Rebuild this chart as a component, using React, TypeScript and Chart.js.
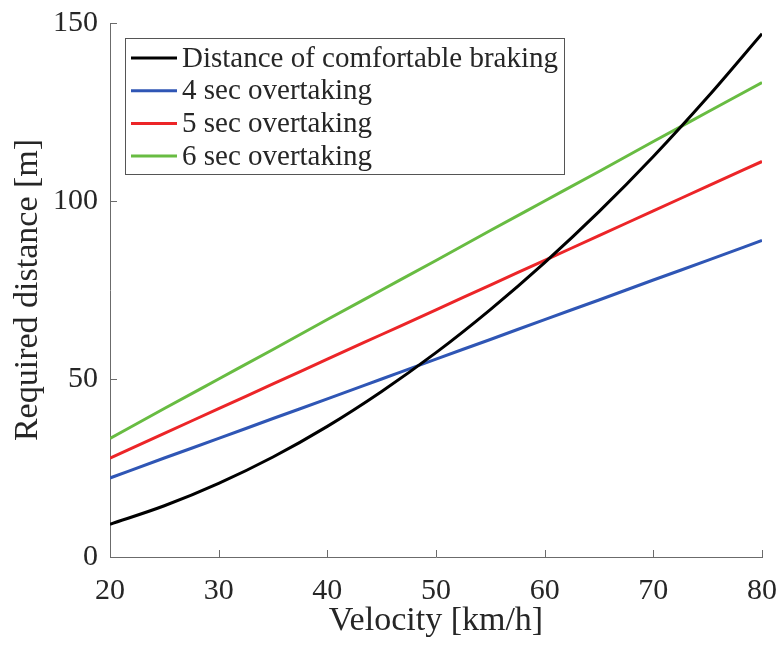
import React, { useEffect, useRef } from "react";
import { Chart, registerables } from "chart.js";

Chart.register(...registerables);

const velocities = [20, 25, 30, 35, 40, 45, 50, 55, 60, 65, 70, 75, 80];
const braking = [9.2, 14.4, 20.7, 28.1, 36.7, 46.5, 57.4, 69.5, 82.7, 97.0, 112.5, 129.2, 147.0];
const overtake4 = [22.2, 27.8, 33.3, 38.9, 44.4, 50.0, 55.6, 61.1, 66.7, 72.2, 77.8, 83.3, 88.9];
const overtake5 = [27.8, 34.7, 41.7, 48.6, 55.6, 62.5, 69.4, 76.4, 83.3, 90.3, 97.2, 104.2, 111.1];
const overtake6 = [33.3, 41.7, 50.0, 58.3, 66.7, 75.0, 83.3, 91.7, 100.0, 108.3, 116.7, 125.0, 133.3];
const seriesLabels = [
  "Distance of comfortable braking",
  "4 sec overtaking",
  "5 sec overtaking",
  "6 sec overtaking",
];
const seriesColors = ["#000000", "#2F56B5", "#EC2528", "#68BC42"];

const FONT = "'Liberation Serif', 'Times New Roman', serif";
const AXIS_COLOR = "#6b6b6b";
const TEXT_COLOR = "#262626";

const toPts = (ys: number[]) => velocities.map((v, i) => ({ x: v, y: ys[i] }));

const inwardTicks = {
  id: "inwardTicks",
  afterDraw(chart: any) {
    const { ctx, chartArea } = chart;
    const xs = chart.scales.x;
    const ys = chart.scales.y;
    ctx.save();
    ctx.strokeStyle = AXIS_COLOR;
    ctx.lineWidth = 1;
    const len = 7;
    ctx.beginPath();
    xs.ticks.forEach((t: any) => {
      const px = Math.round(xs.getPixelForValue(t.value)) + 0.5;
      ctx.moveTo(px, chartArea.bottom);
      ctx.lineTo(px, chartArea.bottom - len);
    });
    ys.ticks.forEach((t: any) => {
      const py = Math.round(ys.getPixelForValue(t.value)) + 0.5;
      ctx.moveTo(chartArea.left, py);
      ctx.lineTo(chartArea.left + len, py);
    });
    ctx.stroke();
    ctx.restore();
  },
};

const boxLegend = {
  id: "boxLegend",
  afterDraw(chart: any) {
    const { ctx } = chart;
    const ds = chart.data.datasets;
    ctx.save();
    ctx.font = `29px ${FONT}`;
    let maxW = 0;
    ds.forEach((d: any) => {
      maxW = Math.max(maxW, ctx.measureText(d.label).width);
    });
    const left = 125.5;
    const top = 38.5;
    const rowH = 32.7;
    const textX = 182;
    const right = Math.round(textX + maxW + 6) + 0.5;
    const height = 136;
    ctx.fillStyle = "#ffffff";
    ctx.fillRect(left, top, right - left, height);
    ctx.strokeStyle = "#555555";
    ctx.lineWidth = 1;
    ctx.strokeRect(left, top, right - left, height);
    ds.forEach((d: any, i: number) => {
      const cy = top + 19.5 + i * rowH;
      ctx.strokeStyle = d.borderColor;
      ctx.lineWidth = 3;
      ctx.beginPath();
      ctx.moveTo(131, cy);
      ctx.lineTo(177, cy);
      ctx.stroke();
      ctx.fillStyle = TEXT_COLOR;
      ctx.textBaseline = "middle";
      ctx.textAlign = "left";
      ctx.fillText(d.label, textX, cy + 1);
    });
    ctx.restore();
  },
};

export default function App() {
  const ref = useRef<HTMLCanvasElement>(null);
  useEffect(() => {
    document.body.style.margin = "0";
    const canvas = ref.current!;
    const datasets = [braking, overtake4, overtake5, overtake6].map((ys, i) => ({
      label: seriesLabels[i],
      data: toPts(ys),
      borderColor: seriesColors[i],
      backgroundColor: seriesColors[i],
      borderWidth: 3,
      pointRadius: 0,
      fill: false,
      cubicInterpolationMode: "monotone" as const,
    }));
    const chart = new Chart(canvas, {
      type: "line",
      data: { datasets },
      options: {
        responsive: false,
        animation: false,
        layout: { padding: { top: 23, right: 19, left: 0, bottom: 0 } },
        plugins: {
          legend: { display: false },
          tooltip: { enabled: false },
        },
        scales: {
          x: {
            type: "linear",
            min: 20,
            max: 80,
            afterFit: (s: any) => {
              s.height = 92;
              s.paddingLeft = 0;
              s.paddingRight = 0;
            },
            grid: { display: false, drawTicks: false },
            border: { display: true, color: AXIS_COLOR, width: 1 },
            ticks: {
              stepSize: 10,
              padding: 16,
              color: TEXT_COLOR,
              font: { family: FONT, size: 30 },
            },
            title: {
              display: true,
              text: "Velocity [km/h]",
              color: TEXT_COLOR,
              font: { family: FONT, size: 34 },
              padding: { top: 0, bottom: 8 },
            },
          },
          y: {
            type: "linear",
            min: 0,
            max: 150,
            afterFit: (s: any) => {
              s.width = 110;
              s.paddingTop = 0;
              s.paddingBottom = 0;
            },
            grid: { display: false, drawTicks: false },
            border: { display: true, color: AXIS_COLOR, width: 1 },
            ticks: {
              stepSize: 50,
              padding: 12,
              color: TEXT_COLOR,
              font: { family: FONT, size: 30 },
            },
            title: {
              display: true,
              text: "Required distance [m]",
              color: TEXT_COLOR,
              font: { family: FONT, size: 34 },
              padding: { top: 8, bottom: 0 },
            },
          },
        },
      },
      plugins: [inwardTicks, boxLegend],
    });
    return () => chart.destroy();
  }, []);
  return (
    <div style={{ width: 781, height: 649 }}>
      <canvas ref={ref} width={781} height={649} style={{ display: "block" }} />
    </div>
  );
}
